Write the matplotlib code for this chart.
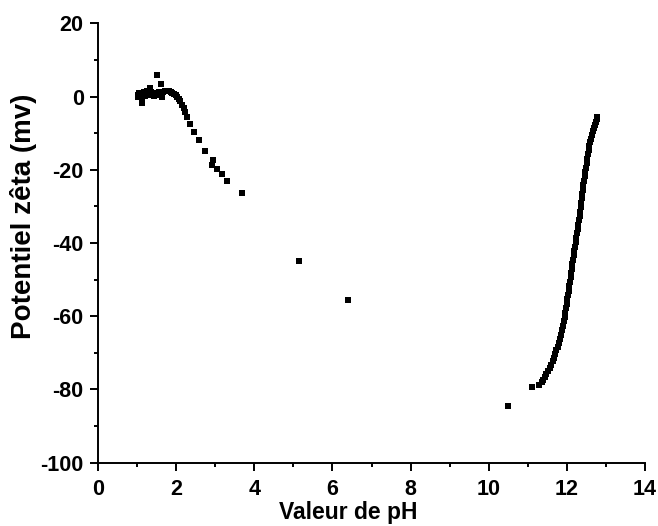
import matplotlib
matplotlib.use("Agg")
import matplotlib.pyplot as plt

plt.rcParams['font.family'] = ['Liberation Sans', 'DejaVu Sans']
plt.rcParams['font.weight'] = 'bold'
plt.rcParams['axes.unicode_minus'] = False

# --- data ---
ph_acid = [1.03, 1.03, 1.05, 1.11, 1.08, 1.10, 1.12, 1.15, 1.17, 1.19, 1.22, 1.24,
           1.26, 1.29, 1.32, 1.34, 1.36, 1.39, 1.42, 1.45, 1.47, 1.50, 1.55, 1.64,
           1.60, 1.62, 1.66, 1.70, 1.74, 1.78, 1.82, 1.86, 1.90, 1.94, 1.98, 2.02,
           2.06, 2.10, 2.15, 2.19, 2.23, 2.28, 2.35, 2.46, 2.57, 2.73, 2.93, 2.92,
           3.03, 3.16, 3.31, 3.67]
zeta_acid = [0.5, -0.2, 1.0, -1.8, 0.3, 0.9, 0.0, 0.6, 1.2, 0.2, 0.8, 1.4,
             0.3, 1.0, 2.3, 0.5, 1.3, 0.7, 0.2, 1.0, 0.4, 5.9, 1.2, 0.0,
             3.4, 1.1, 1.3, 1.5, 1.6, 1.6, 1.5, 1.3, 1.1, 0.8, 0.4, -0.1,
             -0.6, -1.3, -2.2, -3.1, -4.2, -5.5, -7.5, -9.6, -12.0, -14.8, -17.2, -18.6,
             -19.7, -21.2, -23.2, -26.4]

ph_mid = [5.14, 6.41, 10.50]
zeta_mid = [-45.0, -55.6, -84.5]

ph_base = [11.10, 11.28, 11.36, 11.40, 11.44, 11.48, 11.53, 11.57, 11.61, 11.65,
           11.68, 11.71, 11.74, 11.77, 11.80, 11.83, 11.86, 11.89, 11.91, 11.93,
           11.95, 11.97, 11.98, 12.00, 12.02, 12.04, 12.05, 12.07, 12.09, 12.10,
           12.12, 12.13, 12.15, 12.17, 12.18, 12.20, 12.21, 12.23, 12.25, 12.26,
           12.28, 12.29, 12.31, 12.33, 12.34, 12.36, 12.37, 12.39, 12.40, 12.42,
           12.43, 12.45, 12.46, 12.48, 12.49, 12.51, 12.53, 12.55, 12.57, 12.58,
           12.60, 12.62, 12.65, 12.67, 12.70, 12.72, 12.75, 12.77, 12.79]
zeta_base = [-79.3, -78.8, -78.0, -77.3, -76.6, -75.8, -75.0, -74.1, -73.2, -72.3,
             -71.3, -70.3, -69.3, -68.3, -67.3, -66.2, -65.0, -63.8, -62.6, -61.4,
             -60.2, -59.0, -57.8, -56.6, -55.4, -54.2, -53.0, -51.8, -50.6, -49.4,
             -48.2, -47.0, -45.8, -44.6, -43.4, -42.2, -41.0, -39.8, -38.6, -37.4,
             -36.2, -35.0, -33.8, -32.6, -31.4, -30.2, -29.0, -27.8, -26.6, -25.4,
             -24.2, -23.0, -21.8, -20.6, -19.4, -18.2, -17.0, -15.8, -14.6, -13.5,
             -12.5, -11.5, -10.5, -9.5, -8.5, -7.7, -6.9, -6.2, -5.6]

x_ticks = [0, 2, 4, 6, 8, 10, 12, 14]
x_minor = [1, 3, 5, 7, 9, 11, 13]
y_ticks = [-100, -80, -60, -40, -20, 0, 20]
y_minor = [-90, -70, -50, -30, -10, 10]

ph = ph_acid + ph_mid + ph_base
zeta = zeta_acid + zeta_mid + zeta_base

W, H = 658, 526
fig = plt.figure(figsize=(W / 100, H / 100), dpi=100)
ax = fig.add_axes([98.3 / W, 1 - 462.7 / H, (644.7 - 98.3) / W, (462.7 - 23.3) / H])

ax.plot(ph, zeta, linestyle='none', marker='s', markersize=3.8, color='black',
        markeredgewidth=0)

ax.set_xlim(0, 14)
ax.set_ylim(-100, 20)
ax.set_xticks(x_ticks)
ax.set_xticks(x_minor, minor=True)
ax.set_yticks(y_ticks)
ax.set_yticks(y_minor, minor=True)
ax.set_xticklabels([str(v) for v in x_ticks], fontweight='bold', fontsize=15.5)
ax.set_yticklabels([str(v) for v in y_ticks], fontweight='bold', fontsize=15.5)

for s in ['top', 'right']:
    ax.spines[s].set_visible(False)
for s in ['left', 'bottom']:
    ax.spines[s].set_linewidth(1.4)

ax.tick_params(which='major', direction='out', length=6, width=1.4)
ax.tick_params(which='minor', direction='out', length=3, width=1.4)
ax.tick_params(axis='x', which='major', pad=5.5)
ax.tick_params(axis='y', which='major', pad=4.5)

fig.text(348 / W, 1 - 512 / H, 'Valeur de pH', fontsize=16.5, fontweight='bold',
         ha='center', va='center')
fig.text(24 / W, 1 - 216 / H, 'Potentiel zêta (mv)', fontsize=20, fontweight='bold',
         ha='center', va='center', rotation=90)

fig.savefig('out.png', dpi=100)
